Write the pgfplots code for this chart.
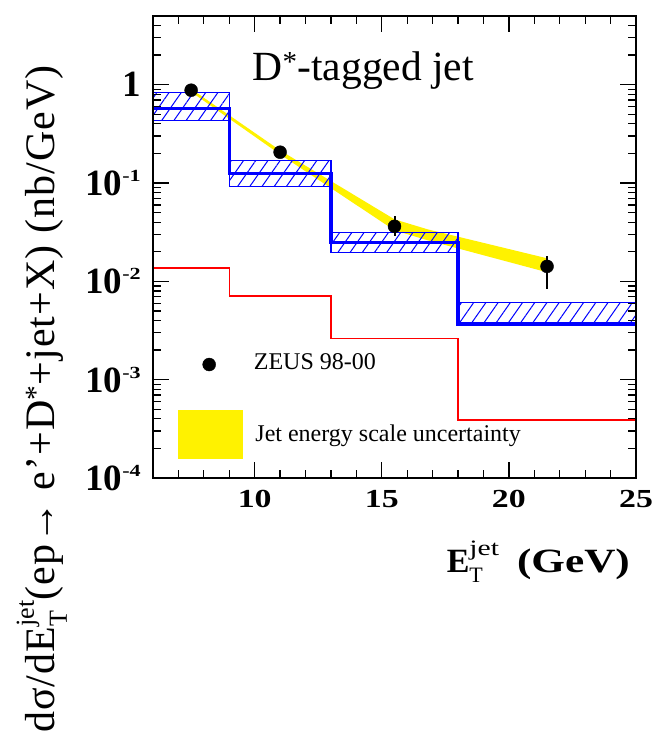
\documentclass[border=0pt]{standalone}
\usepackage{fontspec}
\setmainfont{Liberation Serif}
\usepackage{graphicx}
\usepackage{pgfplots}
\pgfplotsset{compat=1.18}
\usetikzlibrary{patterns.meta}
\newcommand{\supsub}[3]{%
 \setbox0=\hbox{\normalfont\fontsize{#1}{#1}\selectfont #2}%
 \setbox2=\hbox{\normalfont\fontsize{#1}{#1}\selectfont #3}%
 \ifdim\wd0>\wd2 \dimen0=\wd0 \else \dimen0=\wd2 \fi
 \hbox to \dimen0{\rlap{\raise0.5em\box0}\lower0.28em\box2\hfil}}
\newcommand{\ex}[1]{\textbf{10}\raisebox{14pt}{\scalebox{1.3}[1]{\fontsize{17}{17}\selectfont\bfseries #1}}}
\newcommand{\xt}[1]{\scalebox{1.3}[1]{#1}}
\begin{document}
\begin{tikzpicture}
\begin{axis}[
  scale only axis, width=483pt, height=462pt,
  xmin=6, xmax=25, ymin=1e-4, ymax=5,
  ymode=log,
  axis on top,
  axis line style={line width=1.6pt},
  every tick/.style={black, line width=1.3pt},
  major tick length=16pt, minor tick length=8pt,
  tick align=inside,
  xtick={10,15,20,25},
  xticklabels={\xt{10},\xt{15},\xt{20},\xt{25}},
  minor xtick={7,8,9,11,12,13,14,16,17,18,19,21,22,23,24},
  ytick={1e-4,1e-3,1e-2,1e-1,1},
  yticklabels={\ex{-4},\ex{-3},\ex{-2},\ex{-1},\textbf{1}},
  minor ytick={2e-4,3e-4,4e-4,5e-4,6e-4,7e-4,8e-4,9e-4,2e-3,3e-3,4e-3,5e-3,6e-3,7e-3,8e-3,9e-3,2e-2,3e-2,4e-2,5e-2,6e-2,7e-2,8e-2,9e-2,2e-1,3e-1,4e-1,5e-1,6e-1,7e-1,8e-1,9e-1,2,3,4,5},
  xticklabel style={font=\fontsize{26}{30}\selectfont\bfseries, anchor=north, inner sep=0pt, yshift=-12pt},
  yticklabel style={font=\fontsize{37}{40}\selectfont\bfseries, anchor=east, inner sep=0pt, xshift=-12pt},
  xlabel={\textbf{E}\supsub{22}{\scalebox{1.35}[1]{jet}}{T}\hspace{18pt}\scalebox{1.27}[1]{\textbf{(GeV)}}},
  xlabel style={at={(axis description cs:0.9876,-0.2056)}, anchor=base east, inner sep=0pt, font=\fontsize{34}{38}\selectfont},
  ylabel={\addfontfeatures{LetterSpace=2.5}dσ/dE\supsub{26}{jet}{T}(ep→ e'+D\textsuperscript{*}+jet+X) (nb/GeV)},
  ylabel style={at={(axis description cs:-0.2029,-0.552)}, anchor=base west, inner sep=0pt, font=\fontsize{42}{46}\selectfont},
]
% jet energy scale uncertainty band
\addplot[fill=yellow, draw=none] coordinates {(7.5,0.906) (11,0.2149) (15.5,0.04277) (16.8,0.03384) (21.5,0.01717) (21.5,0.01238) (16.8,0.02617) (15.5,0.03306) (11,0.1956) (7.5,0.845)} -- cycle;
% NLO uncertainty boxes
\addplot[draw=blue, line width=1.2pt, pattern={Lines[angle=55,distance=10pt,line width=1pt]}, pattern color=blue] coordinates {(6,0.434) (9,0.434) (9,0.84) (6,0.84)} -- cycle;
\addplot[draw=blue, line width=1.2pt, pattern={Lines[angle=55,distance=10pt,line width=1pt]}, pattern color=blue] coordinates {(9,0.0925) (13,0.0925) (13,0.170) (9,0.170)} -- cycle;
\addplot[draw=blue, line width=1.2pt, pattern={Lines[angle=55,distance=10pt,line width=1pt]}, pattern color=blue] coordinates {(13,0.0196) (18,0.0196) (18,0.0313) (13,0.0313)} -- cycle;
\addplot[draw=blue, line width=1.2pt, pattern={Lines[angle=55,distance=10pt,line width=1pt]}, pattern color=blue] coordinates {(18,0.0036) (25,0.0036) (25,0.0061) (18,0.0061)} -- cycle;
% NLO central
\addplot[blue, line width=3.5pt, const plot] coordinates {(6,0.57) (9,0.125) (13,0.0248) (18,0.00367) (25,0.00367)};
% red histogram
\addplot[red, line width=1.3pt, const plot] coordinates {(6,0.01368) (9,0.00711) (13,0.00262) (18,0.000388) (25,0.000388)};
% data
\addplot[only marks, mark=*, mark size=6.5pt, black,
  error bars/.cd, y dir=both, y explicit, error mark=none,
  error bar style={line width=2pt, black}]
  coordinates {(7.5,0.88) (11,0.206) (15.5,0.0363) += (0,0.0097) -= (0,0.0073) (21.5,0.0142) += (0,0.0041) -= (0,0.0058)};
% legend
\addplot[only marks, mark=*, mark size=6.5pt, black] coordinates {(8.21,0.001426)};
\addplot[fill=yellow, draw=none] coordinates {(7.0,0.000155) (9.53,0.000155) (9.53,0.00049) (7.0,0.00049)} -- cycle;
\node[anchor=base west, font=\fontsize{24}{28}\selectfont] at (axis cs:9.83,0.00128) {ZEUS 98-00};
\node[anchor=base west, font=\fontsize{24}{28}\selectfont] at (axis cs:9.89,0.000233) {Jet energy scale uncertainty};
\node[anchor=base west, font=\fontsize{41.5}{45}\selectfont, inner sep=0pt] at (axis cs:9.91,1.106) {D\textsuperscript{*}-tagged jet};
\end{axis}
\pgfresetboundingbox
\path ([shift={(-153pt,-257pt)}]current axis.south west) rectangle ([shift={(16pt,16pt)}]current axis.north east);
\end{tikzpicture}
\end{document}
